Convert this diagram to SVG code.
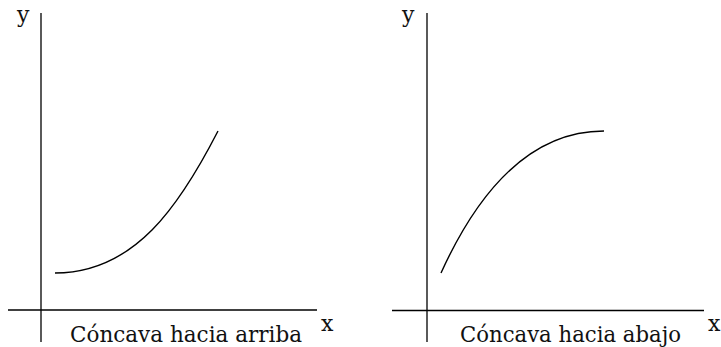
<svg xmlns="http://www.w3.org/2000/svg" width="721" height="347" viewBox="0 0 721 347">
<style>
.ax{stroke:#000;stroke-width:1.3;fill:none}
.cv{stroke:#000;stroke-width:1.4;fill:none}
text{font-family:"DejaVu Serif","Liberation Serif",serif;fill:#111}
.lb{font-size:22px}
.ay{font-size:22px}
</style>
<rect width="721" height="347" fill="#fff"/>
<g id="graph-left">
<line class="ax" x1="41" y1="13" x2="41" y2="342"/>
<line class="ax" x1="8" y1="310" x2="317" y2="310"/>
<path class="cv" d="M55,273 C135,273 180,205 218,131"/>
<text class="ay" x="17" y="22">y</text>
<text class="ay" x="321" y="331">x</text>
<text class="lb" x="70" y="342" textLength="232" lengthAdjust="spacingAndGlyphs">Cóncava hacia arriba</text>
</g>
<g id="graph-right">
<line class="ax" x1="427" y1="13" x2="427" y2="342"/>
<line class="ax" x1="392" y1="310.5" x2="704" y2="310.5"/>
<path class="cv" d="M441,273 C481,185 534,131 604,131"/>
<text class="ay" x="402" y="22">y</text>
<text class="ay" x="708" y="331">x</text>
<text class="lb" x="460" y="342" textLength="221" lengthAdjust="spacingAndGlyphs">Cóncava hacia abajo</text>
</g>
</svg>
